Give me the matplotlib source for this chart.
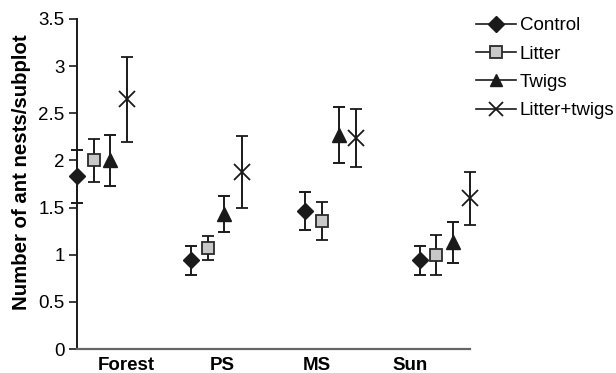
import numpy as np
import matplotlib.pyplot as plt
from matplotlib.lines import Line2D

plt.rcParams['font.family'] = ['Liberation Sans', 'DejaVu Sans']

sites = ["Forest", "PS", "MS", "Sun"]
treatments = ["Control", "Litter", "Twigs", "Litter+twigs"]

# means and error bar half-widths, one list per treatment (Forest, PS, MS, Sun)
control = [1.83, 0.94, 1.46, 0.94]
control_err = [0.28, 0.15, 0.20, 0.15]
litter = [2.00, 1.07, 1.36, 1.00]
litter_err = [0.23, 0.13, 0.20, 0.21]
twigs = [2.00, 1.43, 2.27, 1.13]
twigs_err = [0.27, 0.19, 0.30, 0.22]
litter_twigs = [2.65, 1.88, 2.24, 1.60]
litter_twigs_err = [0.45, 0.38, 0.31, 0.28]

means = [control, litter, twigs, litter_twigs]
errs = [control_err, litter_err, twigs_err, litter_twigs_err]

ink = "#1a1a1a"
styles = [
    dict(marker="D", ms=8.5, mfc=ink, mec=ink),
    dict(marker="s", ms=8.5, mfc="#c8c8c8", mec="#2a2a2a", mew=1.3),
    dict(marker="^", ms=10, mfc=ink, mec=ink),
    dict(marker="x", ms=11, mfc=ink, mec=ink, mew=1.3),
]

fig = plt.figure(figsize=(6.16, 3.73), dpi=100)
ax = fig.add_axes([0.125, 0.0643, 0.638, 0.885])

x = np.arange(len(sites))
offsets = [0.0, 0.146, 0.29, 0.44]
for k in range(4):
    ax.errorbar(x + offsets[k], means[k], yerr=errs[k], linestyle="none",
                ecolor=ink, elinewidth=1.4, capsize=4.5, capthick=1.4,
                color=ink, clip_on=False, zorder=3, **styles[k])

ax.set_xlim(0, 3.44)
ax.set_ylim(0, 3.5)
ax.set_yticks(np.arange(0, 3.51, 0.5))
ax.set_yticklabels(["0", "0.5", "1", "1.5", "2", "2.5", "3", "3.5"])
ax.set_xticks([0.43, 1.27, 2.10, 2.92])
ax.set_xticklabels(sites, fontweight="bold")
ax.tick_params(axis="x", length=0, labelsize=13.5, pad=6)
ax.tick_params(axis="y", length=6, width=1.2, labelsize=13.5, pad=3, color=ink)

for s in ["top", "right"]:
    ax.spines[s].set_visible(False)
ax.spines["left"].set_color(ink)
ax.spines["left"].set_linewidth(1.4)
ax.spines["bottom"].set_color("#666666")
ax.spines["bottom"].set_linewidth(1.6)

ax.set_ylabel("Number of ant nests/subplot", fontsize=14.7, fontweight="bold", labelpad=5, y=0.535)

leg_styles = [dict(st) for st in styles]
leg_styles[0]["ms"] = 8
leg_styles[1]["ms"] = 8
leg_styles[2]["ms"] = 9
leg_styles[3]["ms"] = 10
handles = [Line2D([0], [0], color=ink, lw=1.2, **st) for st in leg_styles]
fig.legend(handles, treatments, loc="upper left", bbox_to_anchor=(0.772, 0.954),
           frameon=False, fontsize=13.5, handlelength=2.15, handletextpad=0.2,
           labelspacing=0.6, borderaxespad=0, borderpad=0)

fig.savefig("out.png", dpi=100)
